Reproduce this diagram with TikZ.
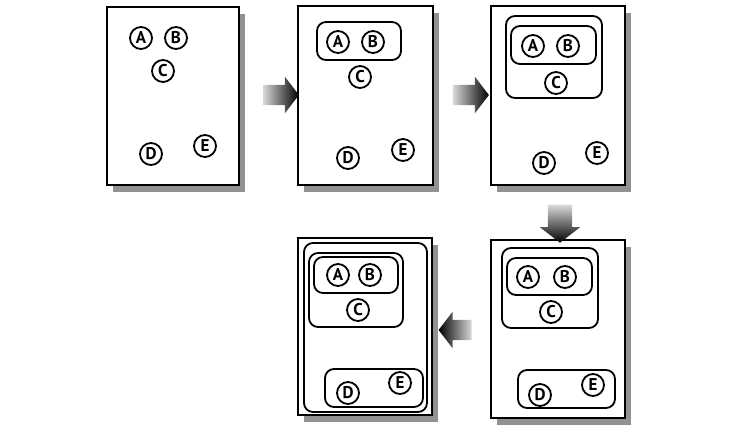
\documentclass[tikz,border=0pt]{standalone}
\usepackage{fontspec}
\newfontfamily\ballfont{PT Sans}
\usetikzlibrary{positioning,shapes.arrows,shadows}

\begin{document}
\begin{tikzpicture}[
    x=1pt, y=-1pt,
    ball/.style={circle,draw,line width=1.8pt,minimum size=22pt,inner sep=0pt,font={\ballfont\bfseries\fontsize{17}{17}\selectfont}},
    panel/.style={draw,line width=1.2pt,fill=white,drop shadow={shadow xshift=6pt,shadow yshift=-7pt,fill=black!85}},
    grp/.style={draw,line width=1.8pt,rounded corners=9pt},
    blkarrow/.style={single arrow,inner sep=10pt,single arrow tip angle=105,single arrow head extend=8pt},
]
    \useasboundingbox (0,0) rectangle (732,431);

    % step 1
    \draw[panel] (107,7) rectangle (239,185);
    \node[ball] at (141,38) (a1) {A};
    \node[ball] at (176,38) (b1) {B};
    \node[ball] at (163,71) (c1) {C};
    \node[ball] at (151,154) (d1) {D};
    \node[ball] at (205,146) (e1) {E};

    % step 2
    \draw[panel] (298,6) rectangle (433,185);
    \draw[grp] (317,22) rectangle (401,60);
    \node[ball] at (338,42) (a2) {A};
    \node[ball] at (373,42) (b2) {B};
    \node[ball] at (360,77) (c2) {C};
    \node[ball] at (348,158) (d2) {D};
    \node[ball] at (403,150) (e2) {E};

    % step 3
    \draw[panel] (491,6) rectangle (625,185);
    \draw[grp] (506,16) rectangle (602,98);
    \draw[grp] (511,26) rectangle (596,64);
    \node[ball] at (533,46) (a3) {A};
    \node[ball] at (568,46) (b3) {B};
    \node[ball] at (556,83) (c3) {C};
    \node[ball] at (544,163) (d3) {D};
    \node[ball] at (597,153) (e3) {E};

    % step 4
    \draw[panel] (491,240) rectangle (625,418);
    \draw[grp] (502,248) rectangle (598,328);
    \draw[grp] (507,258) rectangle (592,295);
    \draw[grp] (518,370) rectangle (615,408);
    \node[ball] at (528,277) (a4) {A};
    \node[ball] at (565,277) (b4) {B};
    \node[ball] at (551,312) (c4) {C};
    \node[ball] at (540,395) (d4) {D};
    \node[ball] at (593,385) (e4) {E};

    % step 5
    \draw[panel] (298,238) rectangle (432,415);
    \draw[grp] (304,243) rectangle (427,412);
    \draw[grp] (309,253) rectangle (403,327);
    \draw[grp] (314,257) rectangle (398,293);
    \draw[grp] (325,369) rectangle (423,407);
    \node[ball] at (338,275) (a5) {A};
    \node[ball] at (370,275) (b5) {B};
    \node[ball] at (358,310) (c5) {C};
    \node[ball] at (348,393) (d5) {D};
    \node[ball] at (400,383) (e5) {E};

    \node[blkarrow,minimum height=36pt,left color=gray!30,right color=black] at (277,95) (arr12) {};
    \node[blkarrow,minimum height=36pt,left color=gray!30,right color=black] at (467,95) (arr23) {};
    \node[blkarrow,inner sep=12pt,shape border rotate=270,minimum height=38pt,top color=gray!30,bottom color=black] at (560,219) (arr34) {};
    \node[blkarrow,shape border rotate=180,minimum height=33pt,left color=black,right color=gray!30] at (459,330) (arr45) {};

\end{tikzpicture}
\end{document}
